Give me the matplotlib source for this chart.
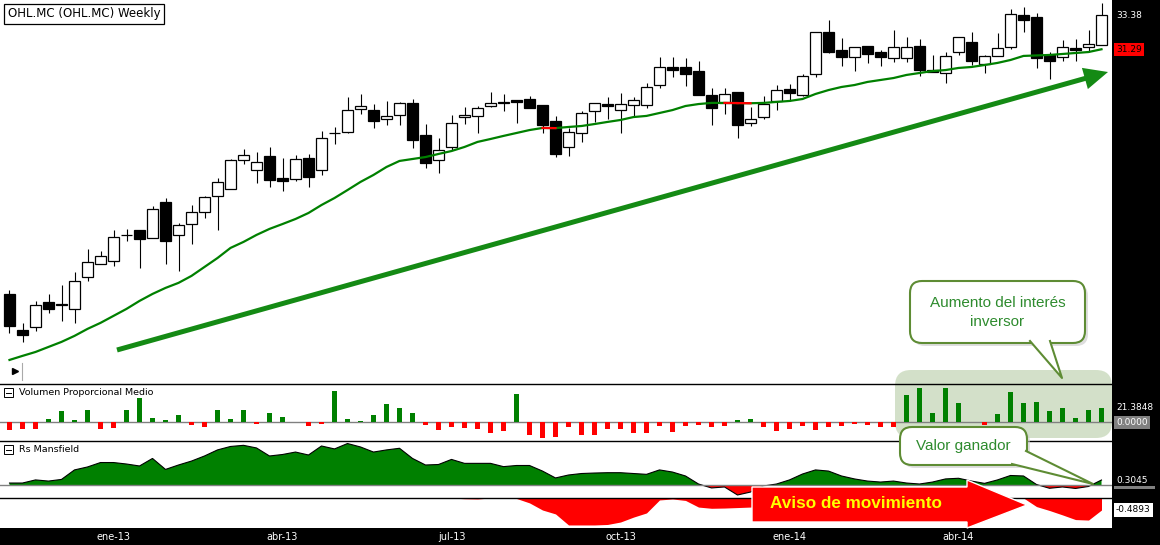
import numpy as np
import matplotlib
matplotlib.use("Agg")
import matplotlib.pyplot as plt
from matplotlib.patches import Rectangle, FancyBboxPatch, Polygon, FancyArrow
from matplotlib.transforms import blended_transform_factory

W, H = 1160, 545

# ── weekly OHLC ────────────────────────────────────────────────────────
opens = [16.24, 14.02, 14.23, 15.75, 15.58, 15.30, 17.27, 18.07, 18.25, 19.86,
         20.17, 19.66, 21.90, 19.85, 20.53, 21.26, 22.25, 22.68, 24.46, 23.85,
         24.73, 23.35, 23.33, 24.58, 23.86, 26.12, 26.22, 27.63, 27.54, 26.98,
         27.23, 27.99, 26.02, 24.46, 25.26, 27.11, 27.19, 27.80, 27.99, 28.15,
         28.23, 27.88, 26.88, 25.26, 26.12, 27.49, 27.92, 27.54, 27.84, 27.84,
         29.07, 30.18, 30.18, 29.94, 28.46, 28.00, 28.64, 26.74, 27.14, 28.13,
         28.83, 28.50, 29.77, 32.33, 31.23, 30.80, 31.47, 31.10, 30.73, 30.73,
         31.47, 30.01, 29.81, 31.10, 31.72, 30.37, 30.86, 31.41, 33.38, 33.26,
         30.92, 30.80, 31.35, 31.41, 31.53]
highs = [16.48, 14.46, 15.81, 16.24, 16.79, 17.59, 19.01, 18.88, 20.17, 20.25,
         20.17, 21.65, 22.14, 20.61, 21.71, 22.25, 23.37, 24.54, 25.14, 24.95,
         25.26, 24.58, 24.79, 24.85, 26.26, 26.53, 28.35, 28.54, 27.92, 28.09,
         28.05, 28.25, 26.69, 25.81, 27.23, 27.72, 27.80, 28.64, 28.52, 28.15,
         28.42, 27.88, 27.19, 26.43, 27.49, 27.97, 28.35, 28.62, 28.35, 29.22,
         30.83, 30.83, 30.73, 30.57, 28.89, 28.93, 28.64, 27.72, 28.42, 29.07,
         29.15, 29.79, 32.33, 33.09, 31.96, 31.41, 31.47, 31.23, 32.46, 32.03,
         31.90, 30.94, 31.10, 32.03, 32.33, 30.92, 32.27, 33.75, 33.91, 33.50,
         31.10, 31.84, 31.90, 32.46, 34.12]
lows = [13.84, 13.31, 13.96, 15.09, 14.60, 14.47, 17.06, 18.07, 17.98, 19.50,
        17.82, 19.66, 18.08, 17.67, 19.33, 20.91, 20.17, 22.68, 24.25, 23.08,
        22.84, 22.59, 23.19, 22.84, 23.54, 25.48, 26.16, 27.33, 26.43, 26.63,
        26.63, 25.24, 24.01, 23.70, 25.09, 26.68, 26.12, 27.76, 27.51, 26.77,
        27.70, 26.14, 24.68, 24.73, 25.61, 26.84, 27.00, 26.16, 27.11, 27.70,
        28.93, 29.57, 29.01, 28.46, 26.65, 27.29, 25.85, 26.59, 27.00, 27.57,
        28.13, 28.42, 29.60, 31.08, 30.28, 29.97, 30.43, 30.28, 30.53, 30.53,
        29.63, 29.91, 29.20, 30.92, 30.34, 29.85, 30.86, 31.29, 32.33, 30.16,
        29.44, 30.55, 30.55, 31.10, 31.53]
closes = [14.27, 13.74, 15.54, 15.32, 15.56, 17.02, 18.19, 18.56, 19.73, 19.85,
          19.64, 21.45, 19.52, 20.46, 21.26, 22.19, 23.11, 24.46, 24.77, 24.34,
          23.27, 23.19, 24.52, 23.42, 25.81, 26.14, 27.54, 27.80, 26.90, 27.17,
          27.99, 25.73, 24.31, 25.09, 26.74, 27.25, 27.66, 27.99, 28.00, 28.07,
          27.70, 26.65, 24.87, 26.20, 27.35, 27.97, 27.82, 27.91, 28.15, 28.95,
          30.18, 30.03, 29.79, 28.46, 27.70, 28.52, 26.65, 26.98, 27.92, 28.77,
          28.62, 29.63, 32.33, 31.14, 30.80, 31.41, 30.98, 30.80, 31.41, 31.41,
          30.03, 29.91, 30.86, 32.03, 30.55, 30.86, 31.35, 33.44, 33.07, 30.73,
          30.55, 31.41, 31.26, 31.60, 33.38]

# moving average (green line, red where it turns)
ma = [12.18, 12.43, 12.67, 12.98, 13.29, 13.66, 14.09, 14.46, 14.89, 15.32,
      15.81, 16.24, 16.61, 16.92, 17.35, 17.90, 18.45, 19.07, 19.44, 19.87,
      20.24, 20.54, 20.85, 21.22, 21.71, 22.14, 22.63, 23.13, 23.56, 24.05,
      24.42, 24.54, 24.66, 24.85, 25.03, 25.28, 25.59, 25.77, 25.96, 26.14,
      26.32, 26.45, 26.44, 26.51, 26.57, 26.69, 26.82, 26.94, 27.12, 27.19,
      27.37, 27.55, 27.80, 27.92, 27.99, 27.99, 27.98, 27.97, 27.99, 28.05,
      28.11, 28.23, 28.54, 28.78, 28.97, 29.09, 29.28, 29.40, 29.52, 29.71,
      29.83, 29.95, 30.01, 30.14, 30.20, 30.32, 30.45, 30.63, 30.88, 30.91,
      30.94, 31.00, 31.06, 31.12, 31.29]
ma_red = [41, 55, 56]

# Volumen Proporcional Medio
volume = [-11.5, -9.6, -9.6, 4.9, 16.9, 3.4, 18.4, -10.0, -7.9, 18.4,
          36.3, 6.4, 3.4, 10.9, -4.0, -7.0, 18.4, 4.9, 18.4, -1.9,
          13.9, 7.9, 0.0, -4.9, -1.9, 46.8, 4.9, 1.9, 10.9, 27.4,
          21.4, 13.9, -4.0, -11.5, -7.0, -8.5, -10.0, -16.0, -13.0, 42.3,
          -19.0, -23.5, -22.0, -7.0, -19.0, -19.0, -10.0, -10.0, -16.0, -16.0,
          -5.5, -14.5, -5.5, -4.0, -7.0, -5.5, 3.4, 4.9, -7.0, -13.0,
          -10.0, -5.0, -12.0, -7.0, -5.0, -3.0, -4.0, -7.0, -6.4, 40.8,
          51.7, 14.4, 51.7, 29.3, 0.0, -4.0, 12.9, 45.3, 29.3, 30.8,
          17.3, 21.4, 6.9, 18.8, 21.3848]

# Rs Mansfield
rs = [0.12, 0.12, 0.31, 0.24, 0.34, 0.92, 1.10, 1.37, 1.37, 1.28,
      1.16, 1.62, 0.95, 1.22, 1.46, 1.77, 2.14, 2.35, 2.42, 2.26,
      1.77, 1.86, 2.01, 1.83, 2.38, 2.20, 2.53, 2.32, 2.01, 2.14,
      2.24, 1.62, 1.22, 1.25, 1.56, 1.32, 1.32, 1.32, 1.12, 1.19,
      1.19, 0.85, 0.43, 0.61, 0.70, 0.73, 0.75, 0.75, 0.70, 0.65,
      0.92, 0.79, 0.55, 0.06, -0.18, -0.12, -0.61, -0.43, -0.06, 0.06,
      0.31, 0.67, 0.92, 0.85, 0.55, 0.37, 0.24, 0.18, 0.24, 0.12,
      0.06, 0.18, 0.37, 0.41, 0.24, 0.10, 0.31, 0.58, 0.55, 0.03,
      -0.20, -0.12, -0.21, -0.09, 0.3045]
rs_low = [0, 0, 0, 0, 0, 0, 0, 0, 0, 0,
          0, 0, 0, 0, 0, 0, 0, 0, 0, 0,
          0, 0, 0, 0, 0, 0, 0, 0, 0, 0,
          0, 0, 0, 0, 0, -0.03, -0.04, 0, 0, -0.02,
          -0.20, -0.49, -0.65, -1.10, -1.10, -1.10, -1.08, -0.98, -0.78, -0.61,
          -0.08, -0.04, -0.10, -0.37, -0.42, -0.41, -0.39, -0.37, -0.36, -0.35,
          -0.40, -0.50, -0.60, -0.70, -0.70, -0.60, -0.50, -0.40, -0.30, -0.20,
          -0.15, -0.10, -0.10, -0.10, -0.10, -0.05, -0.02, 0, 0, -0.35,
          -0.51, -0.69, -0.88, -0.90, -0.4893]

date_pos = [8, 21, 34, 47, 60, 73]
date_labels = ["ene-13", "abr-13", "jul-13", "oct-13", "ene-14", "abr-14"]

GREEN = "#008000"
RED = "#ff0000"

x = np.arange(len(closes))
o, hi, lo, c = (np.array(a) for a in (opens, highs, lows, closes))
ma = np.array(ma)
rs = np.array(rs)
rs_low = np.array(rs_low)

fig = plt.figure(figsize=(W / 100, H / 100), dpi=100)
fig.patch.set_facecolor("black")
PLOT_R = 1112


def panel(top, bottom):
    ax = fig.add_axes([0, 1 - bottom / H, PLOT_R / W, (bottom - top) / H])
    ax.set_facecolor("white")
    ax.set_xlim(-9.5 / 13, (PLOT_R - 9.5) / 13)
    ax.set_xticks([])
    ax.set_yticks([])
    for s in ax.spines.values():
        s.set_visible(False)
    return ax


ax_p = panel(0, 384)
ax_v = panel(384, 441)
ax_r = panel(441, 498)
ax_l = panel(498, 528)
for a in (ax_v, ax_r, ax_l):
    a.spines["top"].set_visible(True)
    a.spines["top"].set_color("black")
    a.spines["top"].set_linewidth(1.0)

# ── price panel ──
ax_p.set_ylim(10.70, 34.32)
ax_p.vlines(x, lo, hi, color="black", lw=0.8, zorder=2)
body = np.maximum(np.abs(c - o), 0.04)
ax_p.bar(x, body, bottom=np.minimum(o, c), width=0.82,
         color=np.where(c >= o, "white", "black"), edgecolor="black",
         linewidth=0.9, zorder=3)
ax_p.plot(x, ma, color=GREEN, lw=1.6, zorder=4)
for i in ma_red:
    ax_p.plot(x[i:i + 2], ma[i:i + 2], color=RED, lw=1.6, zorder=5)

# ── volume panel ──
ax_v.set_ylim(-27.96, 57.26)
vol = np.array(volume)
ax_v.bar(x, vol, width=0.36, color=np.where(vol >= 0, GREEN, RED), zorder=3)
ax_v.axhline(0, color="#808080", lw=1.0, zorder=2)

# ── Rs Mansfield ──
ax_r.set_ylim(-0.793, 2.684)
ax_r.fill_between(x, rs, 0, where=rs >= 0, interpolate=True, color=GREEN, lw=0)
ax_r.fill_between(x, rs, 0, where=rs <= 0, interpolate=True, color=RED, lw=0)
ax_r.plot(x, rs, color="black", lw=0.8)
ax_r.axhline(0, color="#808080", lw=1.0)

ax_l.set_ylim(-1.224, 0)
ax_l.fill_between(x, rs_low, 0, color=RED, lw=0)
ax_l.set_xticks(date_pos)
ax_l.set_xticklabels(date_labels, color="white", fontsize=7)
ax_l.tick_params(axis="x", length=0, pad=3)


# ── right-hand value labels ──
def rlabel(ax, y, text, fc, tc):
    tr = blended_transform_factory(ax.transAxes, ax.transData)
    ax.text(1.0035, y, text, transform=tr, ha="left", va="center",
            fontsize=6.5, color=tc, clip_on=False, zorder=6,
            bbox=dict(boxstyle="square,pad=0.25", fc=fc, ec="none"))


rlabel(ax_p, c[-1], f"{c[-1]:.2f}", "black", "white")
rlabel(ax_p, ma[-1], f"{ma[-1]:.2f}", RED, "black")
rlabel(ax_v, vol[-1], f"{vol[-1]:.4f}", "black", "white")
rlabel(ax_v, 0, "0.0000", "#808080", "white")
rlabel(ax_r, rs[-1], f"{rs[-1]:.4f}", "black", "white")
rlabel(ax_l, rs_low[-1], f"{rs_low[-1]:.4f}", "white", "black")

# ── overlay (annotations in pixel units) ──
ov = fig.add_axes([0, 0, 1, 1], zorder=10)
ov.set_xlim(0, W)
ov.set_ylim(H, 0)
ov.axis("off")

# sliver of the Rs zero marker, mostly hidden in the reference
ov.add_patch(Rectangle((1114, 485.5), 41, 3.5, fc="#808080", ec="none"))

ov.text(8, 14, "OHL.MC (OHL.MC) Weekly", fontsize=8.5, ha="left", va="center",
        bbox=dict(boxstyle="square,pad=0.3", fc="white", ec="black", lw=0.9))

for ytxt, label in [(392.5, "Volumen Proporcional Medio"), (449.5, "Rs Mansfield")]:
    ov.add_patch(Rectangle((4, ytxt - 4.5), 9, 9, fc="white", ec="black", lw=0.7))
    ov.plot([6, 11], [ytxt, ytxt], color="black", lw=0.7)
    ov.text(19, ytxt, label, fontsize=6.8, ha="left", va="center")

ov.plot([15], [371], marker=">", color="black", ms=4)
ov.plot([22, 22], [363, 380], color="#aaaaaa", lw=0.8)

# highlighted volume area (behind the bars)
ax_v.add_patch(FancyBboxPatch((895, 370), 217, 68,
                              boxstyle="round,pad=0,rounding_size=16",
                              transform=ov.transData, fc="#a9c394", ec="none",
                              alpha=0.5, zorder=0.5, clip_on=False))

# big trend arrow
ov.add_patch(FancyArrow(117, 350, 1108 - 117, 72 - 350, width=5, head_width=22,
                        head_length=24, length_includes_head=True,
                        color="#148a14", lw=0))

# red "Aviso de movimiento" arrow
ov.add_patch(Polygon([(752, 487), (967, 487), (967, 480), (1027, 505),
                      (967, 528), (967, 522), (752, 522)],
                     closed=True, fc=RED, ec="white", lw=1.0))
ov.text(856, 503, "Aviso de movimiento", fontsize=12.3, fontweight="bold",
        color="#ffff00", ha="center", va="center", family="Liberation Sans")


# callouts
def callout(x0, y0, x1, y1, tail, lines, ty):
    ov.add_patch(FancyBboxPatch((x0 + 3, y0 + 3), x1 - x0, y1 - y0,
                                boxstyle="round,pad=0,rounding_size=12",
                                fc="#c8c8c8", ec="none", alpha=0.6))
    ov.add_patch(FancyBboxPatch((x0, y0), x1 - x0, y1 - y0,
                                boxstyle="round,pad=0,rounding_size=12",
                                fc="white", ec="#5e8c34", lw=1.5))
    (ax_, ay_), (bx_, by_), (tx_, ty_) = tail
    ov.add_patch(Polygon([(ax_, ay_), (tx_, ty_), (bx_, by_)], closed=True,
                         fc="white", ec="none", zorder=3))
    ov.plot([ax_, tx_, bx_], [ay_, ty_, by_], color="#5e8c34", lw=1.5, zorder=4)
    for k, t in enumerate(lines):
        ov.text((x0 + x1) / 2, ty + 19 * k, t, fontsize=11, color="#2e8b2e",
                ha="center", va="center", family="Liberation Sans", zorder=5)


callout(910, 281, 1085, 343, [(1030, 341), (1050, 341), (1062, 378)],
        ["Aumento del interés", "inversor"], 303)
callout(900, 427, 1027, 465, [(1012, 464), (1026, 451), (1093, 484)],
        ["Valor ganador"], 446)

fig.savefig("out.png", dpi=100, facecolor=fig.get_facecolor())
